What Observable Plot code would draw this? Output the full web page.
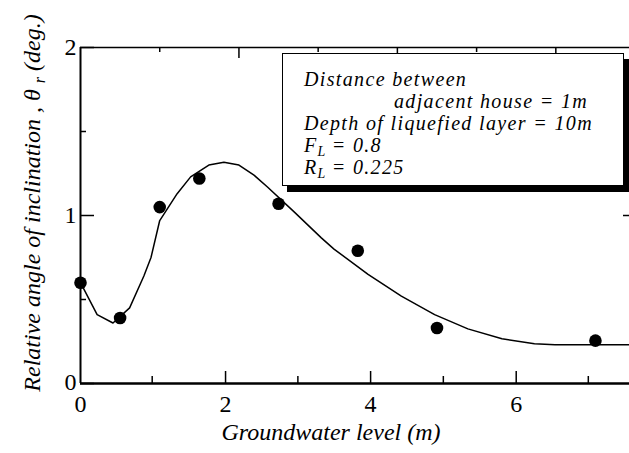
<!DOCTYPE html>
<html>
<head>
<meta charset="utf-8">
<script src="https://cdn.jsdelivr.net/npm/d3@7"></script>
<script src="https://cdn.jsdelivr.net/npm/@observablehq/plot@0.6"></script>
<style>
  body { margin: 0; background: #fff; }
  #wrap { position: relative; width: 629px; height: 453px; overflow: hidden; }
  #legend {
    position: absolute; left: 282px; top: 53px; width: 319px; height: 117px;
    padding: 14px 0 0 21px; border: 1px solid #000; background: #fff;
    box-shadow: 5px 6px 0 #000;
    font-family: "Liberation Serif", "Times New Roman", serif; font-style: italic;
    font-size: 20px; letter-spacing: 1.35px; line-height: 22px; color: #000; white-space: nowrap;
  }
  #legend sub { font-size: 14px; vertical-align: -4px; line-height: 0; letter-spacing: 0; }
</style>
</head>
<body>
<div id="wrap"></div>
<script>
// Measured data points (groundwater level m, relative angle deg.)
const pointX = [0, 0.5, 1, 1.5, 2.5, 3.5, 4.5, 6.5];
const pointY = [0.60, 0.39, 1.05, 1.22, 1.07, 0.79, 0.33, 0.255];
// Fitted curve
const curveX = [0, 0.21, 0.41, 0.62, 0.80, 0.89, 1.0, 1.22, 1.39, 1.62, 1.81, 2.0, 2.19, 2.36, 2.70, 3.04, 3.2, 3.63, 4.05, 4.47, 4.89, 5.32, 5.73, 5.99, 6.93];
const curveY = [0.60, 0.41, 0.36, 0.45, 0.64, 0.75, 0.97, 1.13, 1.23, 1.30, 1.317, 1.30, 1.24, 1.17, 1.02, 0.867, 0.80, 0.65, 0.52, 0.41, 0.325, 0.266, 0.236, 0.23, 0.23];
// Bottom axis ticks (as placed in the picture) and labels
const bottomTickPos = [0, 0.905, 1.831, 2.744, 3.662, 4.58, 5.5, 6.41];
const bottomTickLabels = ["0", "", "2", "", "4", "", "6", ""];
// Top axis ticks
const topTickPos = [1, 2, 3, 4, 5, 6];
// Y ticks
const yMajor = [0, 1, 2];
const yMinor = [0.5, 1.5];
const yLabels = ["0", "1", "2"];
const legendLines = ["Distance between", "adjacent house = 1m", "Depth of liquefied layer = 10m", "F_L = 0.8", "R_L = 0.225"];

const points = pointX.map((x, i) => ({x, y: pointY[i]}));
const curve = curveX.map((x, i) => ({x, y: curveY[i]}));
const bottomTicks = bottomTickPos.map((x, i) => ({x, label: bottomTickLabels[i], major: i % 2 === 0}));
const topTicks = topTickPos.map((x, i) => ({x, major: x % 2 === 0}));
const yTicks = yMajor.map((y, i) => ({y, label: yLabels[i]}));

const W = 629, H = 453, mL = 80, mR = 0, mT = 47, mB = 70;
const pw = W - mL - mR, ph = H - mT - mB;
const font = "Liberation Serif, Times New Roman, serif";

const plot = Plot.plot({
  width: W, height: H,
  marginLeft: mL, marginRight: mR, marginTop: mT, marginBottom: mB,
  x: {domain: [0, 6.93], axis: null},
  y: {domain: [0, 2], axis: null},
  style: {fontFamily: font, background: "white", color: "black", overflow: "visible"},
  marks: [
    // frame
    Plot.ruleX([0], {stroke: "black", strokeWidth: 2}),
    Plot.ruleY([0], {stroke: "black", strokeWidth: 2.3}),
    Plot.ruleY([2], {stroke: "black", strokeWidth: 1.5}),
    // left ticks (inward)
    Plot.ruleY(yMajor, {stroke: "black", strokeWidth: 1.5, insetRight: pw - 14}),
    Plot.ruleY(yMinor, {stroke: "black", strokeWidth: 1.5, insetRight: pw - 6}),
    // right ticks (partially visible at edge)
    Plot.ruleY([1], {stroke: "black", strokeWidth: 1.5, insetLeft: pw - 6}),
    // bottom ticks
    Plot.ruleX(bottomTicks.filter(d => d.major && d.x > 0), {x: "x", stroke: "black", strokeWidth: 1.5, insetTop: ph - 12}),
    Plot.ruleX(bottomTicks.filter(d => !d.major), {x: "x", stroke: "black", strokeWidth: 1.5, insetTop: ph - 7}),
    // top ticks
    Plot.ruleX(topTicks.filter(d => d.major), {x: "x", stroke: "black", strokeWidth: 1.5, insetBottom: ph - 11}),
    Plot.ruleX(topTicks.filter(d => !d.major), {x: "x", stroke: "black", strokeWidth: 1.5, insetBottom: ph - 5}),
    // tick labels
    Plot.text(bottomTicks.filter(d => d.label), {x: "x", y: 0, text: "label", dy: 21, fontSize: 24, fill: "black"}),
    Plot.text(yTicks.filter(d => d.y > 0), {x: 0, y: "y", text: "label", dx: -4, fontSize: 24, fill: "black", textAnchor: "end"}),
    Plot.text(yTicks.filter(d => d.y === 0), {x: 0, y: "y", text: "label", dx: -4, dy: -1, fontSize: 24, fill: "black", textAnchor: "end"}),
    // curve and points
    Plot.line(curve, {x: "x", y: "y", stroke: "black", strokeWidth: 1.5}),
    Plot.dot(points, {x: "x", y: "y", r: 6.3, fill: "black", stroke: "none"}),
    // x axis title
    Plot.text(["Groundwater level (m)"], {frameAnchor: "bottom", dx: -24, dy: 56, fontSize: 24, fontStyle: "italic", fill: "black"})
  ]
});

document.getElementById("wrap").appendChild(plot);

// Y axis title with subscript
const svg = d3.select(plot);
const t = svg.append("text")
  .attr("transform", "translate(40,203) rotate(-90)")
  .attr("text-anchor", "middle")
  .attr("font-family", font)
  .attr("font-style", "italic")
  .attr("font-size", 24)
  .attr("fill", "black");
t.append("tspan").text("Relative angle of inclination , \u03B8 ");
t.append("tspan").attr("dy", 5).attr("font-size", 16).text("r");
t.append("tspan").attr("dy", -5).text(" (deg.)");

// Legend box
const lg = document.createElement("div");
lg.id = "legend";
lg.innerHTML = legendLines.map((s, i) => {
  const html = s.replace(/_(\w)/, "<sub>$1</sub>");
  return `<div style="padding-left:${i === 1 ? 90 : 0}px">${html}</div>`;
}).join("");
document.getElementById("wrap").appendChild(lg);
</script>
</body>
</html>
